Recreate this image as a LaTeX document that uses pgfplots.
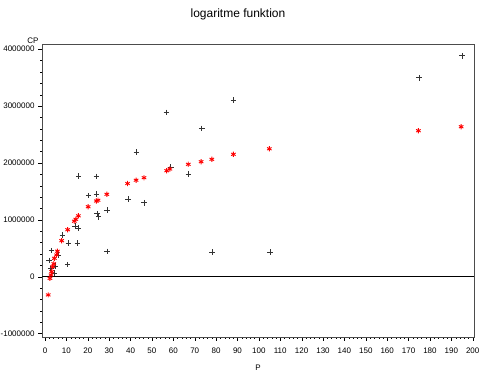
\documentclass[border=0pt]{standalone}
\usepackage{fontspec}
\setmainfont{Liberation Sans}
\usepackage{pgfplots}
\pgfplotsset{compat=1.18}
\begin{document}
\begin{tikzpicture}[x=1pt,y=1pt]
\path[use as bounding box] (0,0) rectangle (481,374);
\node[font=\fontsize{12}{14}\selectfont] at (238,360) {logaritme funktion};
\node[font=\fontsize{8}{10}\selectfont] at (33,333) {CP};
\node[font=\fontsize{8}{10}\selectfont] at (258,6) {P};
\begin{axis}[
  at={(42pt,37pt)}, anchor=south west,
  scale only axis, width=432pt, height=293pt,
  xmin=-1.4, xmax=200.6, ymin=-1060000, ymax=4090000,
  xtick={0,10,...,200}, ytick={-1000000,0,1000000,2000000,3000000,4000000},
  minor x tick num=4, minor y tick num=4,
  xtick pos=left, ytick pos=left, tick align=outside,
  major tick length=4pt, minor tick length=2pt,
  scaled y ticks=false, scaled x ticks=false,
  /pgf/number format/assume math mode=true,
  y tick label style={/pgf/number format/fixed,/pgf/number format/1000 sep={}},
  x tick label style={yshift=-3pt},
  tick label style={font=\fontsize{8}{10}\selectfont},
  axis line style={black!70},
  tick style={black},
  clip=false,
]
\addplot[black, line width=0.9pt] coordinates {(-1.4,0) (200.6,0)};
\addplot[only marks, mark=+, mark size=2.8pt, black!80, mark options={line width=0.6pt}] coordinates {
(194.9,3884000) (174.9,3497000) (88.1,3105000) (56.8,2889000) (73.3,2608000)
(42.8,2192000) (58.8,1923000) (67.1,1805000) (15.7,1770000) (24.1,1764000)
(20.4,1424000) (24.0,1453000) (38.9,1362000) (46.4,1299000) (29.0,1172000)
(24.3,1107000) (25.1,1054000) (14.0,891000) (15.7,851000) (8.1,728000)
(10.9,587000) (15.2,587000) (29.1,443000) (78.2,429000) (105.2,429000)
(3.1,457000) (6.2,376000) (1.9,285000) (4.7,188000) (10.6,211000)
(2.7,141000) (4.2,60000)
};
\addplot[only marks, mark=asterisk, mark size=2.6pt, red, mark options={line width=0.9pt}] coordinates {
(194.6,2636000) (174.6,2566000) (104.9,2248000) (88.1,2151000) (78.0,2063000)
(73.0,2021000) (67.0,1975000) (58.4,1893000) (56.9,1863000) (46.3,1740000)
(42.6,1696000) (38.6,1638000) (28.9,1448000) (24.8,1344000) (24.0,1330000)
(20.2,1230000) (15.6,1070000) (14.4,1009000) (13.7,975000) (10.6,826000)
(7.8,633000) (5.8,448000) (5.4,381000) (4.4,323000) (4.1,228000)
(3.6,176000) (3.1,88000) (2.8,30000) (2.3,-30000) (1.5,-320000)
};
\end{axis}
\end{tikzpicture}
\end{document}
